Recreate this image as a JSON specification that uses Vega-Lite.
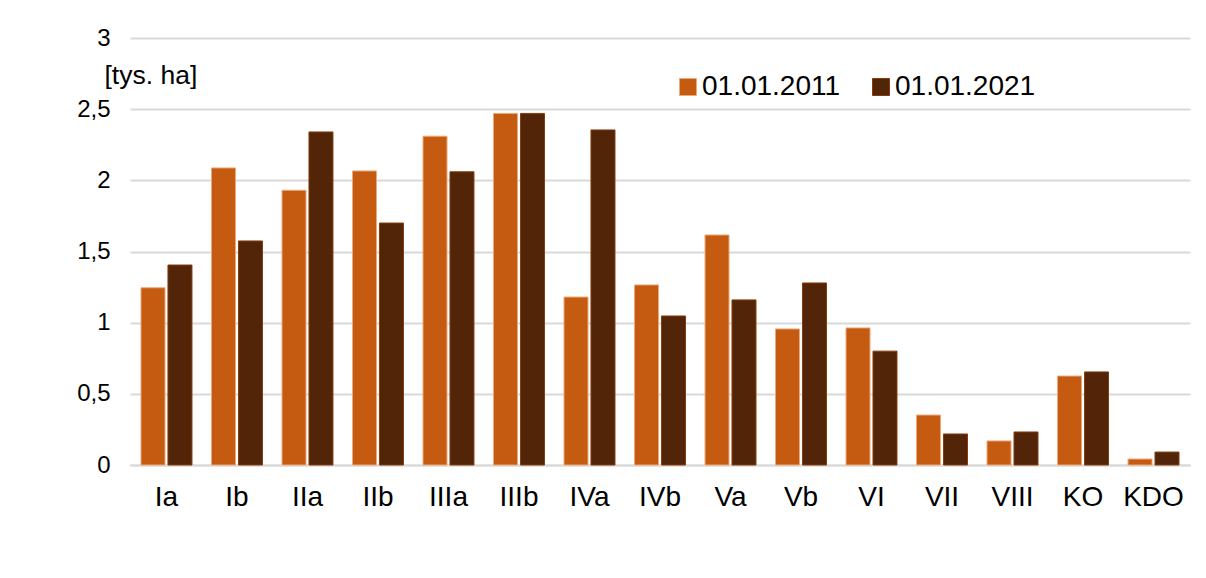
{
  "$schema": "https://vega.github.io/schema/vega-lite/v6.json",
  "width": 1060,
  "height": 427,
  "autosize": {"type": "none"},
  "padding": {"left": 130, "top": 38, "right": 16, "bottom": 113},
  "background": "white",
  "config": {
    "font": "Liberation Sans",
    "view": {"stroke": null}
  },
  "data": {
    "values": [
      {"cat": "Ia", "series": "01.01.2011", "value": 1.245},
      {"cat": "Ia", "series": "01.01.2021", "value": 1.405},
      {"cat": "Ib", "series": "01.01.2011", "value": 2.087},
      {"cat": "Ib", "series": "01.01.2021", "value": 1.574},
      {"cat": "IIa", "series": "01.01.2011", "value": 1.93},
      {"cat": "IIa", "series": "01.01.2021", "value": 2.34},
      {"cat": "IIb", "series": "01.01.2011", "value": 2.066},
      {"cat": "IIb", "series": "01.01.2021", "value": 1.70},
      {"cat": "IIIa", "series": "01.01.2011", "value": 2.31},
      {"cat": "IIIa", "series": "01.01.2021", "value": 2.06},
      {"cat": "IIIb", "series": "01.01.2011", "value": 2.47},
      {"cat": "IIIb", "series": "01.01.2021", "value": 2.47},
      {"cat": "IVa", "series": "01.01.2011", "value": 1.18},
      {"cat": "IVa", "series": "01.01.2021", "value": 2.354},
      {"cat": "IVb", "series": "01.01.2011", "value": 1.265},
      {"cat": "IVb", "series": "01.01.2021", "value": 1.047},
      {"cat": "Va", "series": "01.01.2011", "value": 1.616},
      {"cat": "Va", "series": "01.01.2021", "value": 1.16},
      {"cat": "Vb", "series": "01.01.2011", "value": 0.956},
      {"cat": "Vb", "series": "01.01.2021", "value": 1.279},
      {"cat": "VI", "series": "01.01.2011", "value": 0.963},
      {"cat": "VI", "series": "01.01.2021", "value": 0.80},
      {"cat": "VII", "series": "01.01.2011", "value": 0.351},
      {"cat": "VII", "series": "01.01.2021", "value": 0.218},
      {"cat": "VIII", "series": "01.01.2011", "value": 0.169},
      {"cat": "VIII", "series": "01.01.2021", "value": 0.232},
      {"cat": "KO", "series": "01.01.2011", "value": 0.625},
      {"cat": "KO", "series": "01.01.2021", "value": 0.654},
      {"cat": "KDO", "series": "01.01.2011", "value": 0.042},
      {"cat": "KDO", "series": "01.01.2021", "value": 0.091}
    ]
  },
  "mark": {"type": "bar", "strokeWidth": 1},
  "encoding": {
    "x": {
      "field": "cat",
      "type": "nominal",
      "sort": null,
      "scale": {"paddingInner": 0.277, "paddingOuter": 0.156},
      "axis": {
        "title": null,
        "labelAngle": 0,
        "labelFontSize": 28,
        "labelColor": "#000000",
        "labelPadding": 18,
        "ticks": false,
        "domain": true,
        "domainColor": "#d9d9d9",
        "domainWidth": 2
      }
    },
    "xOffset": {
      "field": "series",
      "type": "nominal",
      "scale": {"paddingInner": 0.11, "paddingOuter": 0}
    },
    "y": {
      "field": "value",
      "type": "quantitative",
      "scale": {"domain": [0, 3], "nice": false},
      "axis": {
        "values": [0, 0.5, 1, 1.5, 2, 2.5, 3],
        "labelExpr": "replace(toString(datum.value), '.', ',')",
        "labelFontSize": 24,
        "labelColor": "#000000",
        "labelPadding": 20,
        "ticks": false,
        "domain": false,
        "gridColor": "#d9d9d9",
        "gridWidth": 2,
        "title": "[tys. ha]",
        "titleAngle": 0,
        "titleAlign": "left",
        "titleBaseline": "middle",
        "titleX": -26,
        "titleY": 37,
        "titleFontSize": 26.5,
        "titleFontWeight": "normal",
        "titleColor": "#000000"
      }
    },
    "fill": {
      "field": "series",
      "type": "nominal",
      "scale": {"range": ["#C55A11", "#522508"]},
      "legend": {
        "title": null,
        "orient": "none",
        "legendX": 544,
        "legendY": 35,
        "padding": 0,
        "direction": "horizontal",
        "symbolType": "square",
        "symbolSize": 289,
        "symbolStrokeWidth": 1,
        "labelFontSize": 28,
        "labelColor": "#000000",
        "labelOffset": 0,
        "columnPadding": 26
      }
    },
    "stroke": {
      "field": "series",
      "type": "nominal",
      "scale": {"range": ["#EDA97A", "#843C0C"]},
      "legend": {
        "title": null,
        "orient": "none",
        "legendX": 544,
        "legendY": 35,
        "padding": 0,
        "direction": "horizontal",
        "symbolType": "square",
        "symbolSize": 289,
        "symbolStrokeWidth": 1,
        "labelFontSize": 28,
        "labelColor": "#000000",
        "labelOffset": 0,
        "columnPadding": 26
      }
    }
  }
}
